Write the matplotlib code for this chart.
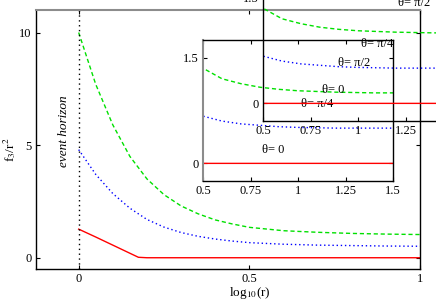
import numpy as np
import matplotlib
matplotlib.use('Agg')
import matplotlib.pyplot as plt

plt.rcParams['font.family'] = ['Liberation Serif', 'DejaVu Serif']
plt.rcParams['mathtext.fontset'] = 'stix'
plt.rcParams['font.size'] = 9

# values
logr = [0.0, 0.05, 0.1, 0.15, 0.2, 0.25, 0.3, 0.35, 0.4, 0.45, 0.5,
        0.6, 0.7, 0.8, 0.9, 1.0, 1.1, 1.2, 1.3, 1.4, 1.5]
f_half_pi = [10.0, 7.7, 5.9, 4.5, 3.5, 2.8, 2.3, 1.95, 1.68, 1.5, 1.35,
             1.2, 1.13, 1.08, 1.05, 1.03, 1.02, 1.01, 1.005, 1.0, 1.0]
f_quarter_pi = [4.8, 3.7, 2.85, 2.2, 1.7, 1.36, 1.12, 0.95, 0.83, 0.74, 0.67,
                0.6, 0.56, 0.54, 0.52, 0.51, 0.505, 0.5, 0.5, 0.5, 0.5]
logr_zero = [0.0, 0.05, 0.1, 0.15, 0.175, 0.2, 0.5, 1.0, 1.5]
f_zero = [1.27, 0.92, 0.56, 0.2, 0.02, 0.0, 0.0, 0.0, 0.0]

xticks_main = [0, 0.5, 1]
yticks_main = [0, 5, 10]
xticks_inset = [0.5, 0.75, 1, 1.25, 1.5]
xticklabels_inset = ['0.5', '0.75', '1', '1.25', '1.5']
yticks_inset = [0, 1.5]
# labels in inset data coords: text, x, y
theta_labels = [('\u03b8= \u03c0/2', 1.295, 1.43),
                ('\u03b8= \u03c0/4', 1.1, 0.84),
                ('\u03b8= 0', 0.868, 0.19)]

W, H = 436, 305
fig = plt.figure(figsize=(W / 100, H / 100), dpi=100)


def px_axes(left, top, right, bottom):
    return [left / W, 1 - bottom / H, (right - left) / W, (bottom - top) / H]


def draw_curves(ax):
    ax.plot(logr, f_half_pi, color='#00e000', lw=1.0, dashes=(3, 2))
    ax.plot(logr, f_quarter_pi, color='#0000ff', lw=1.0, dashes=(1, 2))
    ax.plot(logr_zero, f_zero, color='#ff0000', lw=1.0)


def style_ticks(ax):
    ax.tick_params(direction='in', top=True, right=True, length=3, width=0.8,
                   pad=3, labelsize=9)
    for sp in ax.spines.values():
        sp.set_linewidth(1.0)


# main axes
ax = fig.add_axes(px_axes(36, 10, 420, 269))
draw_curves(ax)
ax.axvline(0, color='black', lw=1.0, dashes=(1, 2.5))
ax.text(-0.044, 5.6, 'event horizon', rotation=90, style='italic',
        ha='center', va='center', fontsize=9.5)
ax.set_xlim(-0.125, 1.0)
ax.set_ylim(-0.5, 11)
ax.set_xticks(xticks_main, labels=['0', '0.5', '1'])
ax.set_yticks(yticks_main, labels=['0', '5', '10'])
style_ticks(ax)
ax.spines['top'].set_color('#8c8c8c')
ax.spines['top'].set_linewidth(1.5)
fig.text(10 / W, 1 - 150 / H, 'f$_3$/r$^2$', rotation=90, ha='center',
         va='center', fontsize=9.5)
fig.text(250 / W, 1 - 293 / H, 'log$_{10}$(r)', ha='center', va='center',
         fontsize=9.5)


def make_inset(rect, opaque):
    ins = fig.add_axes(rect)
    if not opaque:
        ins.patch.set_alpha(0)
    draw_curves(ins)
    for txt, x, y in theta_labels:
        ins.text(x, y, txt, ha='center', va='center', fontsize=9)
    ins.set_xlim(0.5, 1.5)
    ins.set_ylim(-0.25, 1.75)
    ins.set_xticks(xticks_inset, labels=xticklabels_inset)
    ins.set_yticks(yticks_inset, labels=['0', '1.5'])
    style_ticks(ins)
    return ins


inset1 = make_inset(px_axes(203, 40, 393, 181), True)
inset1.spines['left'].set_color('#8c8c8c')
inset1.spines['left'].set_linewidth(1.5)
# second copy of the inset, shifted up and right as in the reference
inset2 = make_inset(px_axes(263, -20, 453, 121), False)

fig.savefig('out.png', dpi=100)
